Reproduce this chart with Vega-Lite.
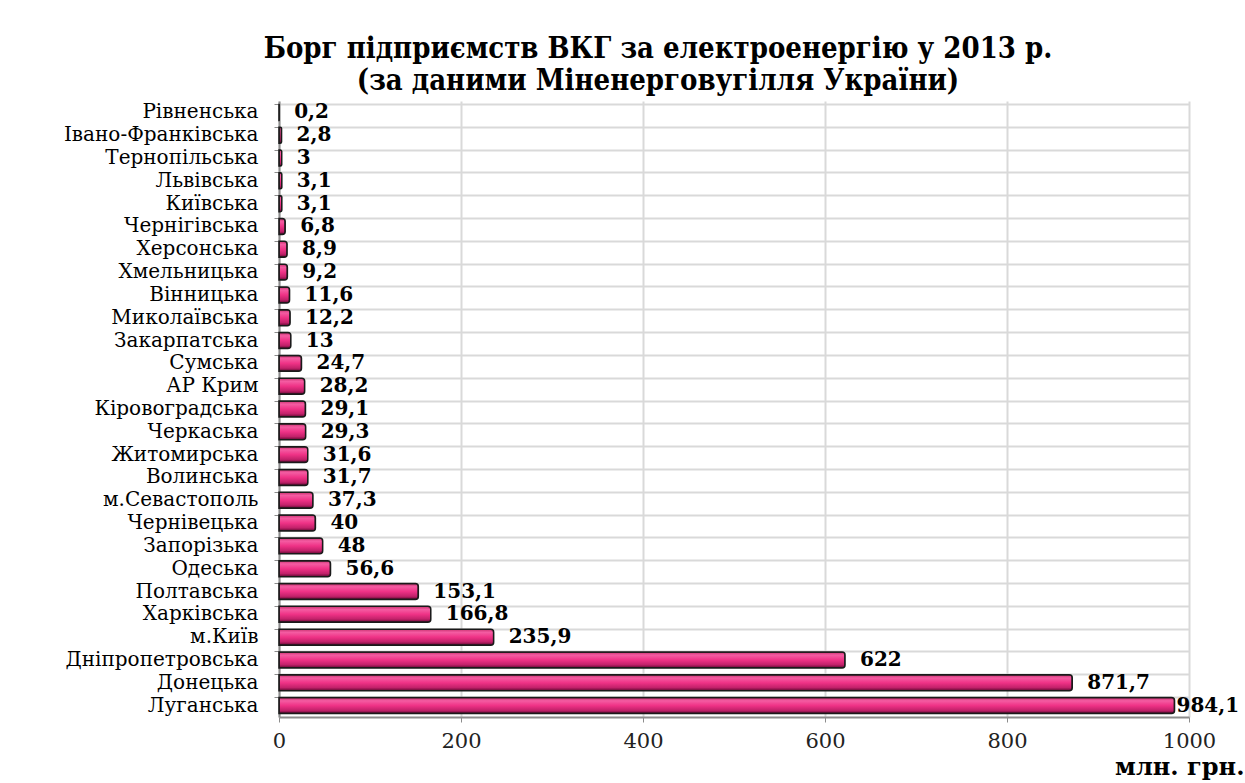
{
  "$schema": "https://vega.github.io/schema/vega-lite/v6.json",
  "width": 910,
  "height": 616,
  "autosize": {"type": "none"},
  "padding": {"left": 279, "top": 101, "right": 56, "bottom": 66},
  "background": "white",
  "config": {
    "locale": {"number": {"decimal": ",", "thousands": "", "grouping": [3], "currency": ["", ""]}},
    "view": {"stroke": null},
    "font": "DejaVu Serif"
  },
  "title": {
    "text": ["Борг підприємств ВКГ за електроенергію у 2013 р.", "(за даними Міненерговугілля України)"],
    "font": "DejaVu Serif Condensed",
    "fontSize": 29,
    "fontWeight": "bold",
    "color": "black",
    "lineHeight": 32,
    "anchor": "middle",
    "dx": -76,
    "offset": 5
  },
  "data": {
    "values": [
      {"region": "Рівненська", "debt": 0.2},
      {"region": "Івано-Франківська", "debt": 2.8},
      {"region": "Тернопільська", "debt": 3},
      {"region": "Львівська", "debt": 3.1},
      {"region": "Київська", "debt": 3.1},
      {"region": "Чернігівська", "debt": 6.8},
      {"region": "Херсонська", "debt": 8.9},
      {"region": "Хмельницька", "debt": 9.2},
      {"region": "Вінницька", "debt": 11.6},
      {"region": "Миколаївська", "debt": 12.2},
      {"region": "Закарпатська", "debt": 13},
      {"region": "Сумська", "debt": 24.7},
      {"region": "АР Крим", "debt": 28.2},
      {"region": "Кіровоградська", "debt": 29.1},
      {"region": "Черкаська", "debt": 29.3},
      {"region": "Житомирська", "debt": 31.6},
      {"region": "Волинська", "debt": 31.7},
      {"region": "м.Севастополь", "debt": 37.3},
      {"region": "Чернівецька", "debt": 40},
      {"region": "Запорізька", "debt": 48},
      {"region": "Одеська", "debt": 56.6},
      {"region": "Полтавська", "debt": 153.1},
      {"region": "Харківська", "debt": 166.8},
      {"region": "м.Київ", "debt": 235.9},
      {"region": "Дніпропетровська", "debt": 622},
      {"region": "Донецька", "debt": 871.7},
      {"region": "Луганська", "debt": 984.1}
    ]
  },
  "encoding": {
    "y": {
      "field": "region",
      "type": "nominal",
      "sort": null,
      "scale": {"paddingInner": 0.3, "paddingOuter": 0.15},
      "axis": {
        "title": null,
        "bandPosition": 0,
        "grid": true,
        "gridColor": "#d9d9d9",
        "gridWidth": 2,
        "domainColor": "#8c8c8c",
        "domainWidth": 2,
        "tickColor": "#8c8c8c",
        "tickSize": 5,
        "labelFont": "DejaVu Serif",
        "labelFontSize": 20,
        "labelColor": "black",
        "labelPadding": 16,
        "labelLimit": 0
      }
    },
    "x": {
      "field": "debt",
      "type": "quantitative",
      "scale": {"domain": [0, 1000], "nice": false},
      "axis": {
        "values": [0, 200, 400, 600, 800, 1000],
        "format": "d",
        "title": "млн. грн.",
        "titleFont": "DejaVu Serif",
        "titleFontSize": 24,
        "titleFontWeight": "bold",
        "titleColor": "black",
        "titleAlign": "right",
        "titleAnchor": null,
        "titleX": 965,
        "titleY": 57,
        "titleBaseline": "alphabetic",
        "grid": true,
        "gridColor": "#d9d9d9",
        "gridWidth": 2,
        "domainColor": "#8c8c8c",
        "domainWidth": 2,
        "tickColor": "#8c8c8c",
        "tickSize": 5,
        "labelFont": "DejaVu Serif",
        "labelFontSize": 21,
        "labelColor": "#222222",
        "labelPadding": 8,
        "labelFlush": false
      }
    }
  },
  "layer": [
    {
      "mark": {
        "type": "bar",
        "stroke": "#1a1a1a",
        "strokeWidth": 1.5,
        "cornerRadiusEnd": 3,
        "fill": {
          "gradient": "linear",
          "x1": 0, "y1": 0, "x2": 0, "y2": 1,
          "stops": [
            {"offset": 0, "color": "#c8306f"},
            {"offset": 0.2, "color": "#f45ca2"},
            {"offset": 0.5, "color": "#ef3286"},
            {"offset": 0.8, "color": "#c2216a"},
            {"offset": 1, "color": "#5e0830"}
          ]
        }
      }
    },
    {
      "transform": [{"filter": "datum.debt < 900"}],
      "mark": {
        "type": "text",
        "align": "left",
        "baseline": "middle",
        "dx": 15,
        "font": "DejaVu Serif",
        "fontSize": 20,
        "fontWeight": "bold",
        "color": "black"
      },
      "encoding": {
        "text": {"field": "debt", "type": "quantitative", "format": ".1~f"}
      }
    },
    {
      "transform": [{"filter": "datum.debt >= 900"}],
      "mark": {
        "type": "text",
        "align": "left",
        "baseline": "middle",
        "dx": 2,
        "font": "DejaVu Serif",
        "fontSize": 20,
        "fontWeight": "bold",
        "color": "black"
      },
      "encoding": {
        "text": {"field": "debt", "type": "quantitative", "format": ".1~f"}
      }
    }
  ]
}
